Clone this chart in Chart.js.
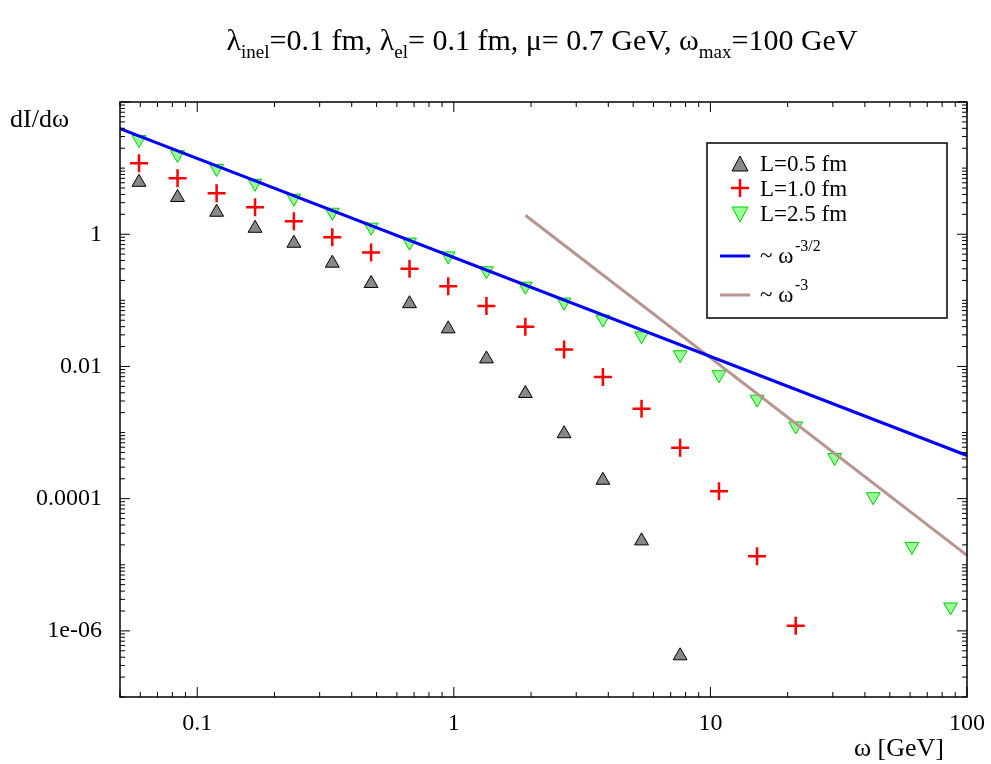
<!DOCTYPE html>
<html><head><meta charset="utf-8">
<script src="https://cdn.jsdelivr.net/npm/chart.js@4"></script>
<style>html,body{margin:0;padding:0;background:#fff}#wrap{width:991px;height:764px;position:relative}</style>
</head><body><div id="wrap"><canvas id="c" width="991" height="764"></canvas></div>
<script>
const omega = [0.0593,0.0838,0.119,0.168,0.238,0.336,0.476,0.672,0.951,1.34,1.9,2.69,3.81,5.39,7.62,10.8,15.2,21.5,30.5,43.1,61.0,86.3];
const L05 = [6.1,3.6,2.15,1.23,0.73,0.365,0.18,0.089,0.037,0.013,0.0039,0.00096,1.9e-4,2.3e-5,4.2e-7];
const L10 = [11.8,7,4.15,2.55,1.57,0.9,0.53,0.3,0.164,0.082,0.04,0.018,0.0069,0.0023,5.9e-4,1.3e-4,1.35e-5,1.2e-6];
const L25 = [27,16,9.9,5.9,3.5,2.15,1.28,0.76,0.47,0.28,0.164,0.094,0.052,0.029,0.015,0.0075,0.0032,0.00126,4.2e-4,1.07e-4,1.9e-5,2.3e-6];
const powA = [[0.05,39.6],[100,4.5e-4]];
const powB = [[1.9,1.94],[100,1.39e-5]];
const xTicks = [0.1,1,10,100];
const yTicks = [1e-6,1e-4,1e-2,1];
const yLabels = {1e-6:'1e-06',1e-4:'0.0001',1e-2:'0.01',1:'1'};
const pts = a => a.map((v,i)=>({x:omega[i],y:v}));
const F = 'Liberation Serif';
const deco = {id:'deco',afterDraw(ch){
  const c=ch.ctx,a=ch.chartArea,xs=ch.scales.x,ys=ch.scales.y;
  c.save();c.strokeStyle='#000';c.lineWidth=1.5;c.strokeRect(a.left,a.top,a.right-a.left,a.bottom-a.top);
  c.lineWidth=1;c.beginPath();
  for(let e=-2;e<=2;e++)for(let m=1;m<10;m++){const v=m*Math.pow(10,e);if(v<0.05||v>100)continue;const p=xs.getPixelForValue(v),l=m==1?10:5;
    c.moveTo(p,a.bottom);c.lineTo(p,a.bottom-l);c.moveTo(p,a.top);c.lineTo(p,a.top+l);}
  for(let e=-7;e<=2;e++)for(let m=1;m<10;m++){const v=m*Math.pow(10,e);if(v<1e-7||v>100)continue;const p=ys.getPixelForValue(v),l=(m==1&&e%2==0)?10:5;
    c.moveTo(a.left,p);c.lineTo(a.left+l,p);c.moveTo(a.right,p);c.lineTo(a.right-l,p);}
  c.stroke();
  c.fillStyle='#000';c.font='26px '+F;c.textAlign='left';c.textBaseline='alphabetic';
  c.fillText('dI/dω',10,127);
  c.textAlign='right';c.fillText('ω [GeV]',944,756);
  const parts=[['λ',30,0],['inel',19,8],['=0.1 fm, λ',30,0],['el',19,8],['= 0.1 fm, μ= 0.7 GeV, ω',30,0],['max',19,8],['=100 GeV',30,0]];
  let w=0;parts.forEach(p=>{c.font=p[1]+'px '+F;w+=c.measureText(p[0]).width;});
  let x=542-w/2;c.textAlign='left';
  parts.forEach(p=>{c.font=p[1]+'px '+F;c.fillText(p[0],x,50+p[2]);x+=c.measureText(p[0]).width;});
  c.lineWidth=1.5;c.strokeRect(707,143,240,175);
  c.font='23px '+F;
  const tri=(cx,cy,down,fill,stroke)=>{c.beginPath();const s=down?-1:1;c.moveTo(cx,cy-8*s);c.lineTo(cx+8,cy+7*s);c.lineTo(cx-8,cy+7*s);c.closePath();c.fillStyle=fill;c.fill();c.strokeStyle=stroke;c.lineWidth=1;c.stroke();};
  tri(740,164,false,'#888','#000');c.fillStyle='#000';c.fillText('L=0.5 fm',760,171);
  c.strokeStyle='#f00';c.lineWidth=2.5;c.beginPath();c.moveTo(731,188);c.lineTo(749,188);c.moveTo(740,179);c.lineTo(740,197);c.stroke();
  c.fillStyle='#000';c.fillText('L=1.0 fm',760,196);
  tri(740,214,true,'#9f9','#0c0');c.fillStyle='#000';c.fillText('L=2.5 fm',760,221);
  c.strokeStyle='#00f';c.lineWidth=3;c.beginPath();c.moveTo(720,256);c.lineTo(750,256);c.stroke();
  c.fillStyle='#000';c.fillText('~ ω',760,263);c.font='16px '+F;c.fillText('-3/2',795,251);
  c.strokeStyle='#b8958f';c.lineWidth=3;c.beginPath();c.moveTo(720,295);c.lineTo(750,295);c.stroke();
  c.font='23px '+F;c.fillStyle='#000';c.fillText('~ ω',760,302);c.font='16px '+F;c.fillText('-3',795,290);
  c.restore();}};
new Chart(document.getElementById('c'),{
  type:'scatter',
  data:{datasets:[
    {data:powA.map(p=>({x:p[0],y:p[1]})),showLine:true,borderColor:'#0000ff',borderWidth:3,pointRadius:0},
    {data:powB.map(p=>({x:p[0],y:p[1]})),showLine:true,borderColor:'#b8958f',borderWidth:3,pointRadius:0},
    {data:pts(L05),pointStyle:'triangle',pointRadius:8,backgroundColor:'#888',borderColor:'#000',borderWidth:1},
    {data:pts(L10),pointStyle:'cross',pointRadius:9,borderColor:'#ff0000',borderWidth:2.5},
    {data:pts(L25),pointStyle:'triangle',rotation:180,pointRadius:8,backgroundColor:'#9f9',borderColor:'#00cc00',borderWidth:1}
  ]},
  options:{responsive:false,animation:false,events:[],
    layout:{padding:{top:102,right:24,left:0,bottom:0}},
    plugins:{legend:{display:false},tooltip:{enabled:false}},
    scales:{
      x:{type:'logarithmic',min:0.05,max:100,grid:{display:false},border:{display:false},
        afterBuildTicks:s=>{s.ticks=xTicks.map(v=>({value:v}));},
        afterFit:s=>{s.height=67;},
        ticks:{font:{family:F,size:24},color:'#000',padding:4,maxRotation:0,callback:v=>String(v)}},
      y:{type:'logarithmic',min:1e-7,max:100,grid:{display:false},border:{display:false},
        afterBuildTicks:s=>{s.ticks=yTicks.map(v=>({value:v}));},
        afterFit:s=>{s.width=120;},
        ticks:{font:{family:F,size:24},color:'#000',padding:10,callback:v=>yLabels[v]||''}}
    }},
  plugins:[deco]
});
</script></body></html>
